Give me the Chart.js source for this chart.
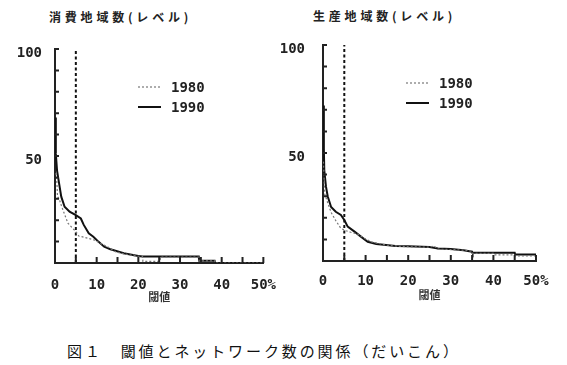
<!DOCTYPE html>
<html lang="ja">
<head>
<meta charset="utf-8">
<script src="https://cdn.jsdelivr.net/npm/chart.js@4.4.0/dist/chart.umd.min.js"></script>
<style>
  body { margin: 0; background: #fff; }
  #page { position: relative; width: 567px; height: 365px; overflow: hidden;
          font-family: "Noto Sans CJK JP", sans-serif; color: #222; }
  canvas { position: absolute; top: 0; }
  .title { position: absolute; font-size: 12px; line-height: 12px; font-weight: bold;
           letter-spacing: 3.8px; white-space: pre; }
  #caption { position: absolute; left: 67px; top: 343px; font-size: 15px; line-height: 16px;
             letter-spacing: 2.9px; white-space: pre; color: #111; }
</style>
</head>
<body>
<div id="page">
  <div class="title" style="left:49px; top:11px;">消費地域数(レベル)</div>
  <div class="title" style="left:313px; top:10px;">生産地域数(レベル)</div>
  <canvas id="consChart" width="290" height="303" style="left:0px;"></canvas>
  <canvas id="prodChart" width="287" height="301" style="left:280px;"></canvas>
  <div id="caption">図１　閾値とネットワーク数の関係（だいこん）</div>
</div>
<script>
// threshold (%) -> number of regions
const threshold = 5;
const seriesNames = ['1980', '1990'];

// 消費地域数
const consX1980 = [0.2, 0.4, 0.6, 1.0, 1.5, 1.9, 3.1, 4.2, 5.0, 5.7, 6.4, 8.0, 9.5, 11, 12.6, 14.5, 16.5, 18.7, 21, 21.1, 25.2, 25.3, 34.5, 34.6, 38.3, 38.4, 50];
const consY1980 = [42, 40, 31, 30, 27, 24.8, 18.6, 16.3, 14.7, 12.6, 12.3, 11.5, 10.7, 9.1, 7.6, 5.3, 4.3, 3.5, 3.0, 0.8, 0.8, 2.8, 2.8, 1.0, 1.0, 0, 0];
const consX1990 = [0, 0.2, 0.5, 1.0, 1.5, 2.3, 3.5, 5.0, 6.2, 6.9, 8.1, 9.2, 10.4, 11.8, 13.3, 14.5, 16.5, 18.7, 20, 21, 34.5, 34.6, 38.3, 38.4, 50];
const consY1990 = [68, 51, 43, 37, 31, 26.3, 24, 22.4, 20.8, 17.8, 13.9, 12.3, 10, 7.6, 6.4, 5.7, 4.6, 3.7, 3.3, 3.0, 3.0, 1.0, 1.0, 0, 0];

// 生産地域数
const prodX1980 = [0.1, 0.4, 1.1, 1.9, 3.0, 4.2, 5.4, 6.5, 8.1, 9.7, 11.3, 13.6, 15, 18, 20, 25, 26, 27, 30, 33, 35, 35.1, 40, 40.1, 45, 45.1, 50];
const prodY1980 = [46, 31, 27, 22.5, 18.7, 15.1, 14, 13.3, 12.5, 10.5, 8.9, 7.9, 7.3, 6.8, 6.6, 6.4, 7.0, 5.5, 5.3, 5.0, 4.5, 3.5, 3.5, 2.8, 2.8, 2.4, 2.4];
const prodX1990 = [0, 0.2, 0.3, 0.7, 1.1, 1.9, 3.0, 4.2, 5.0, 5.8, 7.4, 8.9, 10.5, 12.5, 14.8, 17, 20, 25, 27, 30, 33, 35, 35.1, 45, 45.1, 50];
const prodY1990 = [72, 52, 42, 34.4, 30, 25, 22.8, 21.3, 19, 15.9, 13.6, 11.3, 8.9, 7.9, 7.4, 7.0, 6.8, 6.5, 5.8, 5.5, 5.0, 4.3, 3.8, 3.8, 3.0, 3.0];

const xTicks = [0, 10, 20, 30, 40, 50];
const yTickLabels = [50, 100];

const monoFont = { family: 'DejaVu Sans Mono', size: 14, weight: 'bold' };

function pts(xs, ys) {
  return xs.map((x, i) => ({ x: x, y: ys[i] }));
}

// small inward tick marks on both axes
const innerTicks = {
  id: 'innerTicks',
  afterDraw(chart) {
    const ctx = chart.ctx, a = chart.chartArea;
    const xs = chart.scales.x, ys = chart.scales.y;
    ctx.save();
    ctx.strokeStyle = '#222';
    ctx.lineWidth = 2;
    ctx.beginPath();
    xs.ticks.forEach(t => {
      const px = xs.getPixelForValue(t.value);
      ctx.moveTo(px, a.bottom);
      ctx.lineTo(px, a.bottom - 6);
    });
    ys.ticks.forEach(t => {
      const py = ys.getPixelForValue(t.value);
      ctx.moveTo(a.left, py);
      ctx.lineTo(a.left + 4, py);
    });
    ctx.stroke();
    ctx.restore();
  }
};

// legend drawn inside the plot area
const innerLegend = {
  id: 'innerLegend',
  afterDraw(chart) {
    const ctx = chart.ctx, a = chart.chartArea;
    ctx.save();
    ctx.font = 'bold 14px "DejaVu Sans Mono"';
    ctx.textBaseline = 'middle';
    ctx.fillStyle = '#222';
    [0, 1].forEach(i => {
      const ds = chart.data.datasets[i];
      const y = a.top + 38 + i * 20;
      const x0 = a.left + 83;
      ctx.strokeStyle = ds.borderColor;
      ctx.lineWidth = ds.borderWidth;
      ctx.setLineDash(ds.borderDash || []);
      ctx.beginPath();
      ctx.moveTo(x0, y);
      ctx.lineTo(x0 + 23, y);
      ctx.stroke();
      ctx.setLineDash([]);
      ctx.fillText(ds.label, x0 + 33, y + 1);
    });
    ctx.restore();
  }
};

function makeChart(id, d1980, d1990, geo) {
  return new Chart(document.getElementById(id).getContext('2d'), {
    type: 'line',
    data: {
      datasets: [{
        label: seriesNames[0],
        data: d1980,
        borderColor: '#777',
        borderWidth: 1.2,
        borderDash: [2, 2],
        pointRadius: 0,
        tension: 0
      }, {
        label: seriesNames[1],
        data: d1990,
        borderColor: '#111',
        borderWidth: 2,
        pointRadius: 0,
        tension: 0
      }, {
        label: 'threshold',
        data: [{ x: threshold, y: 0 }, { x: threshold, y: 100 }],
        borderColor: '#111',
        borderWidth: 2,
        borderDash: [3, 2.5],
        pointRadius: 0
      }]
    },
    options: {
      responsive: false,
      animation: false,
      layout: { padding: { left: 0, top: geo.top, right: geo.right, bottom: 0 } },
      plugins: { legend: { display: false }, tooltip: { enabled: false } },
      scales: {
        x: {
          type: 'linear',
          min: 0, max: 50,
          grid: { display: false, drawTicks: false },
          border: { display: true, color: '#222', width: 2 },
          afterFit: s => { s.height = 40; },
          ticks: {
            stepSize: 5, autoSkip: false, maxRotation: 0,
            padding: geo.tickPad,
            color: '#222',
            font: monoFont,
            callback: v => xTicks.includes(v) ? (v === 50 ? '50%' : String(v)) : ''
          },
          title: {
            display: true, text: '閾値', color: '#333',
            font: { family: 'Noto Sans CJK JP', size: 11, weight: 'bold' },
            padding: { top: 0, bottom: 0 }
          }
        },
        y: {
          min: 0, max: 100,
          grid: { display: false, drawTicks: false },
          border: { display: true, color: '#222', width: 2 },
          afterFit: s => { s.width = geo.yWidth; },
          ticks: {
            stepSize: 10, padding: geo.yPad, labelOffset: 4,
            color: '#222',
            font: monoFont,
            callback: v => yTickLabels.includes(v) ? String(v) : ''
          }
        }
      }
    },
    plugins: [innerTicks, innerLegend]
  });
}

makeChart('consChart', pts(consX1980, consY1980), pts(consX1990, consY1990),
  { top: 49, right: 20, yWidth: 55, yPad: 13, tickPad: 14 });
makeChart('prodChart', pts(prodX1980, prodY1980), pts(prodX1990, prodY1990),
  { top: 45, right: 31, yWidth: 43, yPad: 18, tickPad: 12 });
</script>
</body>
</html>
